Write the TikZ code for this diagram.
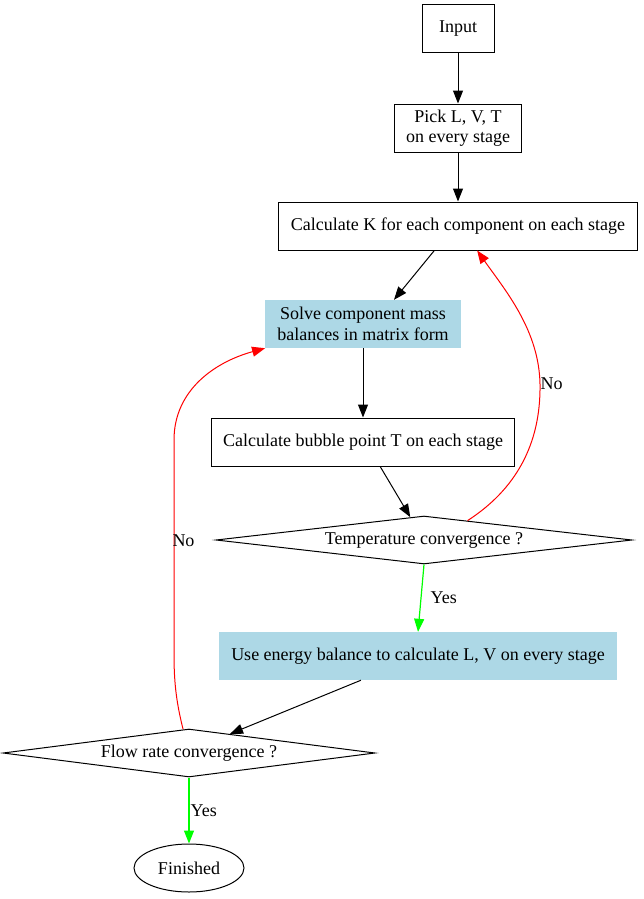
\documentclass[tikz,border=0pt]{standalone}
\usepackage{fontspec}
\setmainfont{Liberation Serif}
\usetikzlibrary{shapes.geometric,arrows.meta}
\definecolor{lblue}{HTML}{ADD8E6}

\begin{document}
\begin{tikzpicture}[x=1pt,y=-1pt,>={Triangle[length=13pt,width=10pt]},
		every node/.style={font=\fontsize{18}{20.5}\selectfont},
		box/.style={draw,line width=1pt,minimum width=72pt,minimum height=48pt,inner xsep=12pt,inner ysep=4pt,align=center},
		bluebox/.style={fill=lblue,minimum height=48pt,inner xsep=12pt,inner ysep=4pt,align=center},
		decision/.style={draw,line width=1pt,diamond,shape aspect=8.7,minimum height=48pt,inner sep=0pt},
		arr/.style={->,line width=1pt},
		yesarr/.style={->,line width=1.2pt,color=green,text=black},
		noarr/.style={->,line width=1pt,color=red,text=black}]
		\useasboundingbox (0,0) rectangle (644,899);
		\node[box] (input) at (458,29) {Input};
		\node[box] (pick) at (458,128) {Pick L, V, T\\on every stage};
		\node[box] (calck) at (458,226) {Calculate K for each component on each stage};
		\node[bluebox] (solve) at (363,324) {Solve component mass\\balances in matrix form};
		\node[box] (bubble) at (363,442) {Calculate bubble point T on each stage};
		\node[decision,minimum width=416pt] (temp) at (424,540) {Temperature convergence ?};
		\node[bluebox] (energy) at (418,656) {Use energy balance to calculate L, V on every stage};
		\node[decision,minimum width=372pt] (flowconv) at (189,753) {Flow rate convergence ?};
		\node[draw,ellipse,line width=1pt,minimum width=110pt,minimum height=48pt,inner sep=0pt] (done) at (189,868) {Finished};
		\draw[arr] (input) -- (pick);
		\draw[arr] (pick) -- (calck);
		\draw[arr] (calck.-134) -- (solve.38);
		\draw[arr] (solve) -- (bubble);
		\draw[arr] (bubble.-55) -- (temp.121);
		\draw[yesarr] (temp.south) -- node[right,inner sep=1pt,xshift=8pt] {Yes} (energy.north);
		\draw[arr] (energy.-157.5) -- (flowconv.25);
		\draw[yesarr] (flowconv.south) -- node[right,inner sep=1pt] {Yes} (done.north);
		\draw[noarr] (temp.24) .. controls (515,490) and (541,445) .. (540,384) node[right,inner sep=0pt] {No} .. controls (539,330) and (505,290) .. (calck.-52);
		\draw[noarr] (flowconv.104) .. controls (177,705) and (174,685) .. (174,655) -- node[pos=.53,right,inner sep=0pt,xshift=-2pt] {No} (174,440) .. controls (174,390) and (215,362) .. (solve.south west);
\end{tikzpicture}
\end{document}
